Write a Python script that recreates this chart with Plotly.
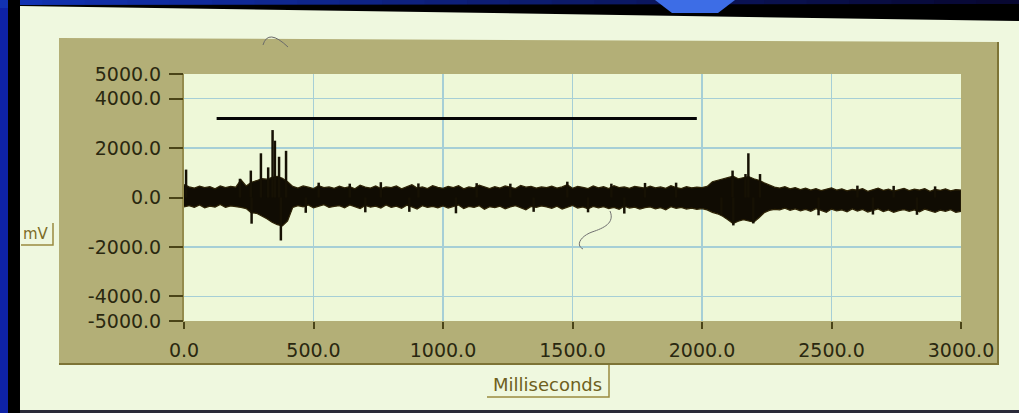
import plotly.graph_objects as go

# ---------------- data ----------------
# envelope of the EMG trace, sampled every 20 ms (mV)
t_env = list(range(0, 3001, 20))
upper = [
    520, 430, 380, 460, 400, 440, 350, 470, 400, 450,
    420, 720, 470, 620, 680, 760, 740, 820, 860, 780,
    640, 450, 380, 470, 420, 360, 480, 400, 430, 370,
    460, 390, 440, 350, 500, 420, 380, 470, 360, 430,
    400, 470, 350, 440, 520, 380, 430, 360, 480, 410,
    370, 450, 400, 480, 350, 430, 390, 500, 420, 360,
    440, 380, 470, 400, 360, 490, 420, 450, 380, 430,
    400, 460, 380, 430, 520, 370, 450, 410, 360, 470,
    390, 440, 360, 480, 400, 430, 370, 450, 410, 380,
    460, 390, 430, 370, 480, 400, 360, 440, 390, 420,
    400, 450, 640, 690, 760, 820, 860, 760, 800, 850,
    760, 700, 600, 500, 420, 380, 440, 350, 400, 320,
    380, 300, 360, 280, 340, 390, 300, 350, 270, 330,
    300, 360, 250, 330, 380, 290, 340, 260, 320, 370,
    280, 340, 300, 360, 250, 330, 290, 350, 270, 320,
    300,
]
lower = [
    -380, -330, -400, -300, -420, -350, -390, -280, -400, -340,
    -360, -400, -450, -620, -640, -760, -860, -1000, -1100, -1150,
    -950, -400, -330, -380, -300, -420, -350, -290, -400, -360,
    -330, -420, -300, -380, -450, -320, -390, -350, -430, -300,
    -400, -350, -440, -310, -380, -470, -330, -400, -360, -420,
    -340, -430, -380, -300, -450, -360, -400, -330, -480, -370,
    -410, -350, -460, -380, -330, -420, -500, -360, -400, -340,
    -380, -440, -350, -470, -400, -320, -430, -380, -460, -360,
    -420, -370, -450, -400, -480, -350, -430, -390, -470, -410,
    -380, -460, -410, -500, -370, -440, -400, -470, -430, -480,
    -450, -500, -600, -660, -760, -900, -1050, -960, -900, -950,
    -1000, -820, -620, -520, -480, -500, -430, -520, -460, -540,
    -480, -560, -450, -520, -600, -470, -540, -500, -580, -460,
    -550, -480, -590, -520, -460, -570, -500, -600, -530, -490,
    -560, -500, -580, -470, -540, -600, -510, -560, -490, -600,
    -560,
]
# individual spikes (ms, mV)
spike_up_t = [8, 216, 258, 297, 325, 342, 351, 367, 394, 520, 640, 760, 905, 1130,
              1260, 1480, 1650, 1780, 1900, 2118, 2168, 2179, 2224, 2600, 2740, 2900]
spike_up_v = [1130, 760, 1090, 1790, 1220, 2730, 2300, 1650, 1890, 600, 560, 620,
              570, 580, 560, 640, 560, 590, 600, 1090, 950, 1790, 950, 480, 470, 450]
spike_dn_t = [261, 374, 470, 700, 870, 1050, 1350, 1560, 1700, 2075, 2121, 2198,
              2450, 2660, 2830]
spike_dn_v = [-1060, -1740, -620, -600, -580, -640, -580, -600, -650, -700, -1130,
              -1050, -720, -690, -700]

# hand-drawn bar on the slide (ms, mV)
bar_t = [126, 1980]
bar_v = [3200, 3200]

x_ticks = [0, 500, 1000, 1500, 2000, 2500, 3000]
x_ticktext = ["0.0", "500.0", "1000.0", "1500.0", "2000.0", "2500.0", "3000.0"]
y_ticks = [-5000, -4000, -2000, 0, 2000, 4000, 5000]
y_ticktext = ["-5000.0", "-4000.0", "-2000.0", "0.0", "2000.0", "4000.0", "5000.0"]

# ---------------- geometry helpers (pixel -> paper) ----------------
W, H = 1019, 413
L_PX, R_PX, T_PX, B_PX = 184, 961, 74, 321


def PX(x):
    return (x - L_PX) / (R_PX - L_PX)


def PY(y):
    return (B_PX - y) / (B_PX - T_PX)


def poly(points, fill=None, line=None, width=0, close=True, layer="below"):
    d = "M " + " L ".join(f"{PX(x):.5f},{PY(y):.5f}" for x, y in points)
    if close:
        d += " Z"
    return dict(type="path", xref="paper", yref="paper", path=d,
                fillcolor=fill if fill else "rgba(0,0,0,0)",
                line=dict(color=line if line else "rgba(0,0,0,0)", width=width),
                layer=layer)


shapes = []
# slide top band (blue fading to dark)
n = 24
c0, c1 = (18, 50, 178), (8, 8, 50)
for i in range(n):
    f = i / (n - 1)
    col = "rgb(%d,%d,%d)" % tuple(int(a + (b - a) * f) for a, b in zip(c0, c1))
    x0 = i * W / n
    x1 = (i + 1) * W / n + 1
    shapes.append(poly([(x0, 0), (x1, 0), (x1, 8), (x0, 8)], fill=col))
shapes.append(poly([(8, 5), (W, 4), (W, 23), (20, 7)], fill="#000000"))
shapes.append(poly([(8, 0), (20, 0), (20, H), (8, H)], fill="#000000"))
shapes.append(poly([(655, 0), (735, 0), (718, 13), (672, 13)], fill="#3d6de6"))
# photo paper
shapes.append(poly([(20, 6), (W, 21), (W, 410), (20, 410)], fill="#eff8df"))
shapes.append(poly([(20, 410), (W, 410), (W, H), (20, H)], fill="#2a2a3a"))
# olive panel
shapes.append(poly([(59, 38), (998, 42), (998, 364), (59, 364)], fill="#b3af77"))
shapes.append(poly([(59, 364), (998, 364), (998, 42)], line="#7d7436", width=2,
                   close=False))
# plot area background and left edge
shapes.append(poly([(L_PX, T_PX), (R_PX, T_PX), (R_PX, B_PX), (L_PX, B_PX)],
                   fill="#eef8d8"))
shapes.append(poly([(183, T_PX), (183, B_PX)], line="#8a8040", width=1.5,
                   close=False))
# label boxes
shapes.append(poly([(21, 245), (53, 245), (53, 223)], line="#9a8a40", width=1.5,
                   close=False))
shapes.append(poly([(487, 397), (609, 397), (609, 365)], line="#9a8a40", width=1.5,
                   close=False))
# pen marks on the photo
shapes.append(dict(type="path", xref="paper", yref="paper", layer="above",
                   path=f"M {PX(263):.5f},{PY(45):.5f} Q {PX(268):.5f},{PY(28):.5f} {PX(288):.5f},{PY(47):.5f}",
                   line=dict(color="#6a6a6a", width=1)))
shapes.append(dict(type="path", xref="paper", yref="paper", layer="above",
                   path=(f"M {PX(610):.5f},{PY(211):.5f} C {PX(615):.5f},{PY(223):.5f} "
                         f"{PX(604):.5f},{PY(228):.5f} {PX(592):.5f},{PY(232):.5f} "
                         f"C {PX(581):.5f},{PY(236):.5f} {PX(575):.5f},{PY(245):.5f} "
                         f"{PX(583):.5f},{PY(249):.5f}"),
                   line=dict(color="#707070", width=1)))

fig = go.Figure()

# EMG band (upper/lower envelope)
fig.add_trace(go.Scatter(
    x=t_env + t_env[::-1], y=upper + lower[::-1],
    mode="lines", fill="toself", fillcolor="#100c03",
    line=dict(color="#2e2408", width=1.2), hoverinfo="skip", showlegend=False))

# spikes
sx, sy = [], []
for t, v in zip(spike_up_t, spike_up_v):
    sx += [t, t, None]
    sy += [0, v, None]
for t, v in zip(spike_dn_t, spike_dn_v):
    sx += [t, t, None]
    sy += [0, v, None]
fig.add_trace(go.Scatter(x=sx, y=sy, mode="lines",
                         line=dict(color="#161104", width=2.5),
                         hoverinfo="skip", showlegend=False))

# drawn horizontal bar
fig.add_trace(go.Scatter(x=bar_t, y=bar_v, mode="lines",
                         line=dict(color="#050505", width=3),
                         hoverinfo="skip", showlegend=False))

tickfont = dict(family="DejaVu Sans", size=19, color="#2a2810")
fig.update_xaxes(range=[0, 3000], tickvals=x_ticks, ticktext=x_ticktext,
                 showgrid=True, gridcolor="#a6cfd6", gridwidth=1.5,
                 zeroline=False, showline=False,
                 ticks="outside", ticklen=7, tickwidth=2, tickcolor="#4a4418",
                 tickfont=tickfont, ticklabelstandoff=5, fixedrange=True)
fig.update_yaxes(range=[-5000, 5000], tickvals=y_ticks, ticktext=y_ticktext,
                 showgrid=True, gridcolor="#a6cfd6", gridwidth=1.5,
                 zeroline=False, showline=False,
                 ticks="outside", ticklen=14, tickwidth=2, tickcolor="#4a4418",
                 tickfont=tickfont, ticklabelstandoff=4, fixedrange=True)

annotations = [
    dict(text="mV", x=PX(36), y=PY(234), xref="paper", yref="paper",
         showarrow=False, xanchor="center", yanchor="middle",
         font=dict(family="DejaVu Sans", size=15, color="#7c6c26")),
    dict(text="Milliseconds", x=PX(547), y=PY(384), xref="paper", yref="paper",
         showarrow=False, xanchor="center", yanchor="middle",
         font=dict(family="DejaVu Sans", size=18, color="#6e6020")),
]

fig.update_layout(
    width=W, height=H, autosize=False,
    margin=dict(l=L_PX, r=W - R_PX, t=T_PX, b=H - B_PX, pad=0),
    paper_bgcolor="#0e22a6", plot_bgcolor="#eef8d8",
    shapes=shapes, annotations=annotations, showlegend=False,
)

fig.write_html(
    "out.html",
    config={"displayModeBar": False, "staticPlot": True},
    post_script="document.body.style.margin='0';document.body.style.overflow='hidden';",
)
